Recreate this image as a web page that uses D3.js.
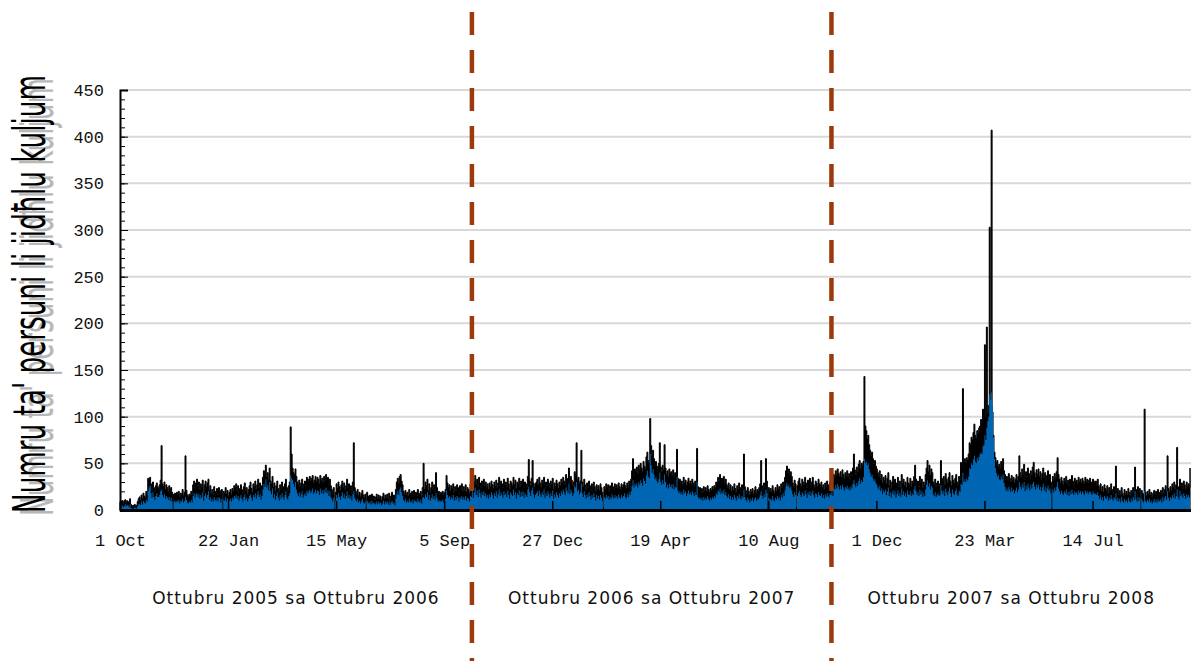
<!DOCTYPE html>
<html lang="en">
<head>
<meta charset="utf-8">
<title>Numru ta' persuni li jidħlu kuljum</title>
<script src="https://cdn.jsdelivr.net/npm/d3@7"></script>
<style>
  body { margin: 0; background: #fff; }
  .tick text { font-family: "Liberation Mono", monospace; font-size: 17px; fill: #111; }
  .grid line { stroke: #d9d9d9; stroke-width: 2; }
  .period { font-family: "DejaVu Sans", Verdana, sans-serif; font-size: 17px; letter-spacing: 1px; fill: #111; text-anchor: middle; }
  .ytitle { font-family: "Liberation Sans Narrow", "DejaVu Sans Condensed", "Liberation Sans", sans-serif; font-size: 44px; text-anchor: middle; }
</style>
</head>
<body>
<div id="chart"></div>
<script>
// daily visits from 1 Oct 2005, one value per day
var startDate = "2005-10-01";
var totalVisits = [].concat(
  [8,9,10,7,9,11,8,10,9,8,12,6,5,4,5,6,4,5,9,12],
  [14,10,16,12,18,15,13,20,17,34,33,35,28,22,30,24,20,26,29,25],
  [23,27,32,69,28,25,30,22,27,24,20,26,21,24,19,2,17,18,15,19],
  [16,20,14,18,17,22,15,19,58,21,16,14,17,15,20,16,27,31,24,29],
  [33,26,30,22,28,25,32,19,27,31,24,29,33,21,26,18,22,17,25,20],
  [19,23,17,24,21,16,22,2,20,18,24,17,21,15,19,22,17,23,20,26],
  [24,28,21,26,19,23,27,22,18,25,29,21,24,17,22,26,30,23,19,28],
  [25,31,22,27,33,24,29,20,26,35,42,38,48,36,40,33,45,31,28,36],
  [24,29,20,26,31,23,19,27,22,30,25,21,28,33,24,20,26,30,89,60],
  [45,40,38,44,36,30,27,32,25,29,33,24,28,31,26,35,30,33,36,31],
  [34,37,29,32,36,30,35,33,28,37,31,34,29,36,32,38,30,35,27,33],
  [26,22,18,24,2,19,28,23,30,25,21,27,31,24,29,22,26,33,24,28],
  [22,26,19,30,72,24,20,17,22,15,19,14,18,21,16,13,17,3,19,15],
  [14,16,12,17,13,15,11,14,17,12,16,13,15,10,14,18,12,16,13,17],
  [12,18,10,15,19,13,16,11,22,30,34,28,36,38,31,27,20,17,21,16],
  [19,15,22,18,16,20,14,21,17,19,15,22,18,16,20,14,24,50,22,30],
  [26,33,21,28,19,24,30,22,27,20,40,24,18,20,17,19,18,20,16,19],
  [22,37,29,24,27,20,26,23,28,19,25,21,27,24,18,26,22,28,20,25],
  [21,27,19,24,22,18,28,25,32,23,30,37,27,33,25,35,29,24,31,27],
  [33,26,30,24,28,22,29,25,31,27,23,30,26,32,24,29,35,26,31,28],
  [24,33,27,30,25,34,28,22,31,29,26,35,27,32,23,30,28,34,25,31],
  [27,33,24,30,28,25,36,54,31,26,34,53,29,24,28,30,33,27,35,29],
  [25,32,28,35,23,30,26,33,29,24,31,27,34,22,29,25,32,28,23,30],
  [26,33,29,35,31,27,38,34,30,45,28,36,32,26,30,41,38,72,33,35],
  [28,31,64,30,25,33,27,22,29,24,31,26,21,28,23,30,25,20,27,22],
  [26,21,28,24,19,3,25,22,28,24,27,21,26,23,29,25,22,28,24,27],
  [23,29,25,22,28,24,27,30,26,23,29,25,31,27,33,42,55,38,44,41],
  [46,39,48,43,50,45,41,52,47,44,57,62,53,50,98,69,58,64,55,48],
  [52,47,44,50,72,46,41,48,43,70,45,38,42,36,44,39,41,37,43,35],
  [40,38,65,34,30,33,28,31,27,35,29,32,26,30,34,28,31,27,33,29],
  [26,31,28,66,25,22,24,20,23,19,25,21,24,20,26,22,19,23,21,25],
  [22,26,24,30,28,35,32,38,29,34,31,36,28,33,27,24,29,22,27,20],
  [25,21,28,23,19,26,22,29,24,20,27,23,60,25,21,18,24,20,16,22],
  [19,23,17,21,25,18,22,20,24,28,53,26,22,29,25,55,31,3,24,20],
  [23,19,26,21,18,24,20,27,22,25,19,28,24,30,27,35,42,47,40,44],
  [38,41,36,29,25,32,28,3,26,31,34,28,25,33,30,27,35,29,24,32],
  [28,34,26,30,35,27,24,31,29,25,33,28,26,30,24,27,22,29,25,31],
  [27,24,30,28,33,26,38,35,42,37,44,39,36,41,35,43,38,34,40,37],
  [42,36,39,34,41,37,45,60,43,38,46,41,49,53,44,50,48,52,143,90],
  [85,76,80,70,64,58,62,55,50,53,47,44,40,36,42,33,38,29,35,31],
  [37,28,34,40,26,32,23,30,36,27,33,22,29,35,25,31,24,38,28,33],
  [26,30,24,35,29,27,34,25,31,28,36,48,33,27,31,25,36,29,33,24],
  [30,26,38,45,53,41,48,37,44,40,30,27,33,25,29,31,26,28,53,34],
  [30,36,27,39,33,29,35,40,31,26,37,32,28,34,38,30,27,36,33,51],
  [48,130,52,55,51,56,53,60,72,70,78,75,83,92,80,77,85,82,88,90],
  [97,94,108,102,177,100,196,104,112,303,118,407,105,80,62,56,50,53,46,49],
  [44,52,47,55,42,38,33,36,31,39,34,30,37,32,35,29,33,38,31,36],
  [58,40,35,44,38,49,33,41,36,45,39,34,42,37,46,51,40,35,43,38],
  [44,36,41,33,39,45,35,40,31,37,42,34,38,30,3,36,32,39,34,41],
  [56,38,33,29,35,31,27,34,30,36,28,32,26,33,29,37,31,27,34,30],
  [32,28,35,30,33,29,34,31,28,35,30,33,29,32,34,30,28,33,31,29],
  [31,27,33,26,22,28,20,25,19,27,23,21,26,18,24,20,28,22,19,25],
  [21,47,19,23,17,21,16,24,18,15,22,17,20,16,23,19,15,21,18,24],
  [20,46,22,17,25,19,23,2,21,18,16,108,19,15,20,17,22,16,19,14],
  [18,21,16,20,15,22,17,19,21,16,24,18,22,26,20,58,23,19,25,21],
  [28,24,30,22,27,67,25,21,33,26,29,23,31,27,22,30,25,28,24,45]
);
var uniqueVisits = [].concat(
  [3,4,5,3,4,6,4,5,5,3,6,2,2,1,2,3,2,2,4,6],
  [7,5,9,6,10,8,7,11,9,20,24,26,18,13,19,14,11,15,18,14],
  [14,16,20,22,16,14,17,12,15,13,11,14,10,13,9,0,9,10,8,10],
  [9,11,7,10,9,12,8,10,14,11,8,7,9,8,11,8,15,18,13,17],
  [18,14,17,12,16,13,19,10,15,18,13,16,20,11,14,9,12,9,14,11],
  [10,13,9,14,12,8,12,1,11,10,14,9,12,8,10,12,9,13,11,15],
  [13,16,12,15,10,13,16,12,9,14,17,11,13,9,12,15,17,13,10,16],
  [14,18,12,16,20,14,17,11,15,22,28,25,33,24,27,21,30,20,17,23],
  [13,17,11,15,19,13,10,16,12,18,14,11,16,20,13,11,15,18,37,34],
  [32,28,25,30,22,18,15,19,14,17,20,13,16,18,15,21,18,20,22,18],
  [20,23,17,19,22,18,21,20,16,23,18,21,17,22,19,24,18,21,15,20],
  [14,12,9,13,0,10,16,13,18,14,11,15,19,13,17,12,15,20,13,16],
  [12,15,10,17,20,13,11,9,12,8,10,7,10,12,8,7,9,1,10,8],
  [7,9,6,10,7,8,6,7,9,6,9,7,8,5,7,10,6,9,7,9],
  [6,9,5,8,10,7,8,5,12,17,20,16,22,24,19,15,11,9,12,8],
  [10,8,12,9,8,11,7,11,9,10,8,12,9,8,11,7,13,14,12,17],
  [14,19,11,16,10,13,17,12,15,11,18,13,9,11,9,10,9,11,8,10],
  [12,21,16,13,15,11,14,12,16,10,14,11,15,13,9,14,12,15,11,14],
  [11,15,10,13,12,9,15,14,20,13,19,24,16,21,14,22,18,13,19,16],
  [20,15,18,13,16,12,17,14,19,16,12,18,15,20,13,17,22,15,19,16],
  [13,20,16,18,14,21,16,12,19,17,15,22,16,19,12,18,16,21,14,19],
  [15,20,13,18,16,14,22,25,19,15,21,24,17,13,16,18,20,15,21,17],
  [14,19,16,22,13,18,15,20,17,13,18,15,21,12,17,14,19,16,13,18],
  [15,20,17,22,19,16,24,21,18,28,17,22,19,15,18,26,24,30,20,22],
  [17,19,28,18,14,20,16,12,17,14,19,15,11,16,13,18,14,10,16,12],
  [15,11,16,13,10,0,14,12,16,13,15,11,14,12,17,14,12,16,13,15],
  [12,17,14,12,16,13,15,18,14,12,17,14,19,16,20,26,32,24,28,26],
  [28,24,30,27,32,29,26,34,31,28,37,42,36,34,60,48,40,44,38,33],
  [35,31,29,33,40,30,27,32,28,38,30,24,27,23,28,25,27,23,28,22],
  [25,24,36,21,18,20,17,19,16,22,18,20,15,18,21,17,19,16,20,18],
  [15,19,16,30,14,12,13,11,13,10,14,11,13,11,15,12,10,13,11,14],
  [12,15,13,18,16,21,19,23,17,20,18,22,16,19,15,13,17,12,15,11],
  [14,11,16,13,10,15,12,17,13,11,15,13,22,14,11,9,13,11,8,12],
  [10,13,9,12,14,10,12,11,13,16,20,15,12,17,14,22,18,0,13,11],
  [12,10,15,11,9,13,11,15,12,14,10,16,13,18,15,21,26,29,25,27],
  [23,25,21,17,14,19,16,0,15,18,20,16,14,19,17,15,21,17,13,19],
  [16,20,15,18,21,16,13,18,17,14,19,16,15,18,13,16,12,17,14,18],
  [15,13,18,16,20,15,24,22,27,23,28,25,22,26,22,27,24,21,25,23],
  [26,22,24,21,26,23,28,32,27,24,29,26,31,34,28,32,30,35,55,50],
  [52,48,50,44,40,36,38,34,31,33,29,27,24,22,26,20,23,17,21,19],
  [22,16,20,24,15,19,13,18,21,16,20,13,17,21,15,18,14,23,16,20],
  [15,18,14,21,17,16,20,15,18,16,22,26,20,16,19,15,22,17,20,14],
  [18,15,22,27,32,25,29,22,26,24,17,15,19,14,16,18,15,16,27,20],
  [17,21,15,23,19,16,20,24,18,14,22,18,16,20,23,17,15,21,19,28],
  [27,40,30,33,30,34,32,36,45,44,50,48,54,58,52,50,56,53,57,60],
  [62,60,68,70,80,75,88,95,100,124,118,126,112,78,55,45,40,36,38,33],
  [32,36,33,38,29,25,21,23,20,25,22,19,24,20,22,18,21,24,19,22],
  [30,25,22,28,24,30,20,26,22,28,24,21,27,23,28,30,25,22,27,24],
  [27,22,25,20,24,28,21,25,19,23,26,21,23,18,0,22,19,24,21,25],
  [30,23,20,17,21,18,16,20,18,22,16,19,15,20,17,22,18,16,20,18],
  [19,16,21,18,20,17,20,18,16,21,18,20,17,19,20,18,16,20,18,17],
  [18,16,19,15,12,16,11,14,10,15,13,12,15,10,13,11,16,12,10,14],
  [12,18,10,13,9,12,8,14,10,8,12,9,11,8,13,10,8,12,9,14],
  [11,20,12,9,14,10,13,0,12,10,8,20,10,8,11,9,12,8,10,7],
  [9,12,8,11,8,12,9,10,12,8,14,10,13,15,11,20,13,10,14,12],
  [16,13,18,12,15,22,14,11,20,15,17,13,18,15,12,17,14,16,13,20]
);
var endDate = "2008-10-25";
var periodBreaks = ["2006-10-04", "2007-10-15"];
var periodLabels = ["Ottubru 2005 sa Ottubru 2006", "Ottubru 2006 sa Ottubru 2007", "Ottubru 2007 sa Ottubru 2008"];
var yTitle = "Numru ta' persuni li jidħlu kuljum";
var tickStepDays = 113;

var width = 1191, height = 661,
    plotLeft = 120, plotRight = 1191, plotTop = 90, plotBottom = 510;

var parse = d3.utcParse("%Y-%m-%d");
var t0 = parse(startDate);
var data = totalVisits.map(function(v, i) {
  return { date: d3.utcDay.offset(t0, i), total: v, unique: uniqueVisits[i] };
});

var x = d3.scaleUtc().domain([t0, parse(endDate)]).range([plotLeft, plotRight]);
var y = d3.scaleLinear().domain([0, 450]).range([plotBottom, plotTop]);

var svg = d3.select("#chart").append("svg")
    .attr("width", width).attr("height", height);

// grid
svg.append("g").attr("class", "grid")
  .selectAll("line").data(d3.range(50, 451, 50)).enter().append("line")
    .attr("x1", plotLeft).attr("x2", plotRight)
    .attr("y1", function(d) { return y(d); }).attr("y2", function(d) { return y(d); });

var areaTotal = d3.area().curve(d3.curveStepAfter)
    .x(function(d) { return x(d.date); })
    .y0(plotBottom).y1(function(d) { return y(d.total); });
var areaUnique = d3.area().curve(d3.curveStepAfter)
    .x(function(d) { return x(d.date); })
    .y0(plotBottom).y1(function(d) { return y(d.unique); });

svg.append("path").datum(data).attr("d", areaTotal)
   .attr("fill", "#000").attr("stroke", "#000").attr("stroke-width", 1);
svg.append("path").datum(data).attr("d", areaUnique)
   .attr("fill", "#0066b3");

// x axis
var tickDates = d3.range(0, 10).map(function(i) { return d3.utcDay.offset(t0, i * tickStepDays); });
var xAxis = d3.axisBottom(x).tickValues(tickDates)
    .tickFormat(d3.utcFormat("%-d %b")).tickSize(-9).tickPadding(24);
var gx = svg.append("g").attr("transform", "translate(0," + plotBottom + ")").call(xAxis);
gx.select(".domain").remove();
gx.selectAll(".tick line").attr("stroke", "#000").attr("stroke-width", 1.5);
svg.append("line").attr("x1", plotLeft).attr("x2", plotRight)
   .attr("y1", plotBottom + 0.5).attr("y2", plotBottom + 0.5)
   .attr("stroke", "#000").attr("stroke-width", 3);

// y axis
var gyMinor = svg.append("g").attr("transform", "translate(" + plotLeft + ",0)")
    .call(d3.axisLeft(y).tickValues(d3.range(0, 451, 10)).tickSize(-5).tickFormat(""));
gyMinor.select(".domain").remove();
var gy = svg.append("g").attr("transform", "translate(" + plotLeft + ",0)")
    .call(d3.axisLeft(y).tickValues(d3.range(0, 451, 50)).tickSize(-8).tickPadding(16));
gy.select(".domain").attr("stroke", "#000").attr("stroke-width", 2);
gyMinor.selectAll(".tick line").attr("stroke", "#000");
gy.selectAll(".tick line").attr("stroke", "#000");

// y title with grey shadow
var ty = 294;
svg.append("text").attr("class", "ytitle")
   .attr("transform", "translate(53," + (ty + 3) + ") rotate(-90)")
   .attr("fill", "#b8b8b8").attr("textLength", 438).attr("lengthAdjust", "spacingAndGlyphs")
   .text(yTitle);
svg.append("text").attr("class", "ytitle")
   .attr("transform", "translate(45," + ty + ") rotate(-90)")
   .attr("fill", "#000").attr("textLength", 438).attr("lengthAdjust", "spacingAndGlyphs")
   .text(yTitle);

// period labels
var edges = [t0].concat(periodBreaks.map(parse), [parse(endDate)]);
svg.selectAll(".period").data(periodLabels).enter().append("text")
   .attr("class", "period")
   .attr("x", function(d, i) { return (x(edges[i]) + x(edges[i + 1])) / 2; })
   .attr("y", 604)
   .text(function(d) { return d; });

// period dividers
svg.selectAll(".divider").data(periodBreaks).enter().append("line")
   .attr("class", "divider")
   .attr("x1", function(d) { return x(parse(d)); }).attr("x2", function(d) { return x(parse(d)); })
   .attr("y1", 12).attr("y2", height)
   .attr("stroke", "#9c3a0b").attr("stroke-width", 4.5)
   .attr("stroke-dasharray", "23,15");
</script>
</body>
</html>
